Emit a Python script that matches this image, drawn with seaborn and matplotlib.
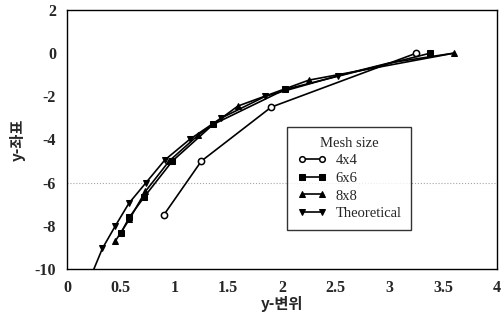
import matplotlib
matplotlib.use('Agg')
import matplotlib.pyplot as plt
import seaborn as sns

# 메쉬별 변위 데이터
x_4x4 = [0.9, 1.25, 1.9, 3.25]
y_4x4 = [-7.5, -5.0, -2.5, 0.0]

x_6x6 = [0.5, 0.58, 0.72, 0.98, 1.36, 2.03, 3.38]
y_6x6 = [-8.35, -7.6, -6.65, -5.0, -3.3, -1.68, 0.0]

x_8x8 = [0.45, 0.58, 0.73, 0.95, 1.22, 1.59, 2.25, 3.6]
y_8x8 = [-8.7, -7.7, -6.4, -5.0, -3.8, -2.45, -1.25, 0.0]

x_theo = [0.2, 0.33, 0.45, 0.575, 0.735, 0.91, 1.14, 1.43, 1.845, 2.52, 3.0, 3.6]
y_theo = [-10.6, -9.04, -8.0, -6.96, -6.0, -4.95, -4.0, -3.02, -2.0, -1.05, -0.45, 0.0]

sns.set_style('white')
plt.rcParams['font.family'] = ['Liberation Serif', 'Noto Sans CJK KR']
plt.rcParams['axes.unicode_minus'] = False

fig, ax = plt.subplots(figsize=(5.02, 3.22), dpi=100)
fig.subplots_adjust(left=0.1335, right=0.99, top=0.969, bottom=0.1646)

ax.axhline(-6, color='0.65', ls=':', lw=0.8, zorder=0)

common = dict(color='black', linewidth=1.2, markersize=4.5, sort=False,
              estimator=None, ax=ax)
sns.lineplot(x=x_4x4, y=y_4x4, marker='o', markerfacecolor='white',
             markeredgecolor='black', markeredgewidth=1.1, label='4x4', **common)
sns.lineplot(x=x_6x6, y=y_6x6, marker='s', markeredgecolor='black',
             label='6x6', **common)
sns.lineplot(x=x_8x8, y=y_8x8, marker='^', markeredgecolor='black',
             label='8x8', **common)
sns.lineplot(x=x_theo, y=y_theo, marker='v', markeredgecolor='black',
             markevery=list(range(1, len(x_theo) - 2)),
             label='Theoretical', **common)

ax.set_xlim(0, 4)
ax.set_ylim(-10, 2)
ax.set_xticks([0, 0.5, 1, 1.5, 2, 2.5, 3, 3.5, 4])
ax.set_xticklabels(['0', '0.5', '1', '1.5', '2', '2.5', '3', '3.5', '4'])
ax.set_yticks([2, 0, -2, -4, -6, -8, -10])
ax.tick_params(axis='both', labelsize=11.5, length=2, direction='in', pad=8)
for t in ax.get_xticklabels() + ax.get_yticklabels():
    t.set_fontweight('bold')

for s in ax.spines.values():
    s.set_color('black')
    s.set_linewidth(1.0)

ax.set_xlabel('y-변위', fontsize=11, fontweight='bold',
              family=['Noto Sans CJK KR'], labelpad=0)
ax.set_ylabel('y-좌표', fontsize=11, fontweight='bold',
              family=['Noto Sans CJK KR'], labelpad=6)

leg = ax.legend(title='Mesh size', loc='upper left',
                bbox_to_anchor=(0.495, 0.578), numpoints=2, fontsize=10.5,
                title_fontsize=10.5, frameon=True, fancybox=False,
                edgecolor='black', handlelength=2.0, handletextpad=0.6,
                borderpad=0.7, labelspacing=0.3, markerscale=0.9)
leg.get_frame().set_linewidth(1.0)

fig.savefig('out.png', dpi=100)
